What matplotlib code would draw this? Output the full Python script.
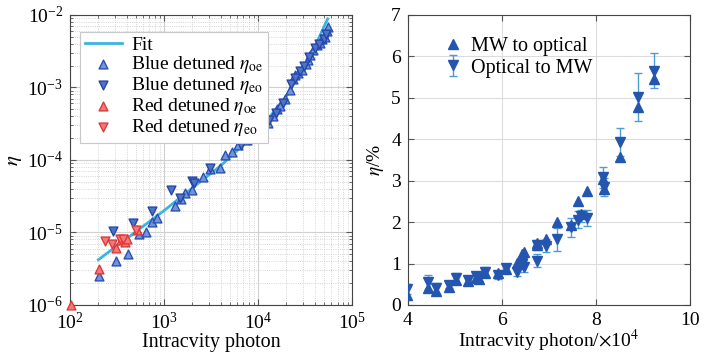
import matplotlib
matplotlib.use("Agg")
import matplotlib.pyplot as plt
from matplotlib.ticker import LogLocator, NullFormatter

plt.rcParams['font.family'] = ['Liberation Serif', 'DejaVu Serif']
plt.rcParams['mathtext.fontset'] = 'stix'

# left panel: efficiency vs intracavity photon number (log-log)
blue_oe_x = [205, 309, 410, 545, 645, 740, 850, 1310, 1500, 1660, 1960, 2600, 3100, 3900,
             4450, 5270, 6160, 7560, 9500, 11800, 12800, 14500, 16000, 17000, 19500, 21800,
             23500, 25000, 26800, 29000, 32000, 34000, 36000, 38600, 42000, 45700, 48000,
             51700, 54000, 55000]
blue_oe_y = [2.5e-6, 4.1e-6, 5.0e-6, 9.5e-6, 1.0e-5, 1.38e-5, 1.6e-5, 2.3e-5, 2.9e-5, 3.5e-5,
             3.8e-5, 5.9e-5, 7.5e-5, 7.8e-5, 1.17e-4, 1.3e-4, 1.6e-4, 1.9e-4, 2.5e-4, 3.4e-4,
             3.2e-4, 4.0e-4, 5.0e-4, 5.5e-4, 7.0e-4, 9.3e-4, 1.3e-3, 1.5e-3, 1.6e-3, 1.75e-3,
             2.1e-3, 2.4e-3, 2.8e-3, 3.3e-3, 3.8e-3, 4.1e-3, 4.6e-3, 5.0e-3, 5.9e-3, 6.8e-3]
blue_eo_x = [289, 472, 740, 1200, 1480, 1960, 2100, 3100, 6600, 8100, 10500, 13000, 15500,
             18500, 22500, 24500, 28000, 31000, 35000, 40000, 44000, 50000, 53000]
blue_eo_y = [1.05e-5, 1.35e-5, 2.0e-5, 3.9e-5, 3.0e-5, 5.2e-5, 4.8e-5, 7.8e-5, 1.6e-4, 1.9e-4,
             3.0e-4, 3.6e-4, 4.5e-4, 6.0e-4, 1.1e-3, 1.35e-3, 1.7e-3, 1.95e-3, 2.6e-3, 3.5e-3,
             3.9e-3, 4.7e-3, 5.5e-3]
red_oe_x = [102, 205, 309, 350, 380, 400, 520]
red_oe_y = [1.0e-6, 3.1e-6, 6.2e-6, 7.8e-6, 7.5e-6, 8.0e-6, 1.07e-5]
red_eo_x = [236, 278, 340, 370, 505]
red_eo_y = [7.6e-6, 6.9e-6, 8.0e-6, 8.2e-6, 1.07e-5]
fit_x = [200, 500, 1000, 2000, 4000, 10000, 20000, 30000, 40000, 55000]
fit_y = [4.2e-6, 1.02e-5, 2.0e-5, 4.1e-5, 8.3e-5, 2.5e-4, 7.5e-4, 1.8e-3, 3.6e-3, 8.8e-3]

# right panel: efficiency (%) vs photon number (x1e4)
photon = [3.97, 4.42, 4.6, 4.87, 5.03, 5.27, 5.44, 5.51, 5.63, 5.91, 6.08, 6.31, 6.42, 6.47,
          6.74, 6.75, 6.93, 7.18, 7.46, 7.61, 7.68, 7.8, 8.15, 8.16, 8.52, 8.9, 9.23]
mw_opt = [0.24, 0.42, 0.34, 0.44, 0.61, 0.57, 0.66, 0.62, 0.76, 0.76, 0.88, 1.02, 1.24, 1.27,
          1.5, 1.45, 1.6, 2.0, 1.92, 2.52, 2.2, 2.76, 3.04, 2.8, 3.56, 4.78, 5.44]
opt_mw = [0.38, 0.55, 0.42, 0.48, 0.64, 0.6, 0.69, 0.68, 0.79, 0.72, 0.89, 0.8, 1.0, 0.92,
          1.07, 1.45, 1.43, 1.58, 1.87, 2.06, 2.15, 2.1, 3.08, 2.84, 3.94, 5.02, 5.65]
opt_mw_err = [0.12, 0.18, 0.12, 0.08, 0.12, 0.1, 0.1, 0.1, 0.12, 0.1, 0.1, 0.1, 0.12, 0.12,
              0.15, 0.12, 0.15, 0.27, 0.22, 0.2, 0.15, 0.2, 0.25, 0.22, 0.34, 0.58, 0.42]

fig = plt.figure(figsize=(7.07, 3.53), dpi=100)
ax1 = fig.add_axes([0.099, 0.136, 0.399, 0.822])
ax2 = fig.add_axes([0.577, 0.136, 0.399, 0.822])

ms = 40
ax1.plot(fit_x, fit_y, color='#3cb4e0', lw=2, label='Fit', zorder=3)
ax1.scatter(blue_oe_x, blue_oe_y, marker='^', s=ms, facecolor='#7593d8', edgecolor='#2850b4',
            lw=1, label=r'Blue detuned $\eta_{\rm oe}$', zorder=4, clip_on=False)
ax1.scatter(blue_eo_x, blue_eo_y, marker='v', s=ms, facecolor='#4f72cc', edgecolor='#2446a6',
            lw=1, label=r'Blue detuned $\eta_{\rm eo}$', zorder=4, clip_on=False)
ax1.scatter(red_oe_x, red_oe_y, marker='^', s=ms, facecolor='#f07a78', edgecolor='#e0393a',
            lw=1, label=r'Red detuned $\eta_{\rm oe}$', zorder=4, clip_on=False)
ax1.scatter(red_eo_x, red_eo_y, marker='v', s=ms, facecolor='#f07a78', edgecolor='#e0393a',
            lw=1, label=r'Red detuned $\eta_{\rm eo}$', zorder=4, clip_on=False)
ax1.set_xscale('log')
ax1.set_yscale('log')
ax1.set_xlim(1e2, 1e5)
ax1.set_ylim(1e-6, 1e-2)
ax1.xaxis.set_minor_locator(LogLocator(base=10, subs=range(2, 10), numticks=20))
ax1.yaxis.set_minor_locator(LogLocator(base=10, subs=range(2, 10), numticks=20))
ax1.xaxis.set_minor_formatter(NullFormatter())
ax1.yaxis.set_minor_formatter(NullFormatter())
ax1.grid(True, which='major', color='#d0d0d0', lw=0.8)
ax1.grid(True, which='minor', color='#c8c8c8', lw=0.6, ls=':')
ax1.set_axisbelow(True)
ax1.set_xlabel('Intracvity photon', fontsize=14.5, labelpad=0)
ax1.set_ylabel(r'$\eta$', fontsize=15, labelpad=2)
leg1 = ax1.legend(loc='upper left', fontsize=14, handlelength=1.9, handletextpad=0.5,
                  borderaxespad=0.5, labelspacing=0.0, fancybox=False, framealpha=1,
                  borderpad=0.25, bbox_to_anchor=(0.0, 0.975))
leg1.get_frame().set_edgecolor('#c8c8c8')
leg1.get_frame().set_linewidth(0.8)

ax2.errorbar(photon, opt_mw, yerr=opt_mw_err, fmt='v', ms=7, color='#2456b0',
             ecolor='#4d9dd2', elinewidth=1, capsize=3, capthick=1, label='Optical to MW',
             zorder=3)
ax2.plot(photon, mw_opt, '^', ms=7, color='#2456b0', label='MW to optical', zorder=4)
ax2.set_xlim(4, 10)
ax2.set_ylim(0, 7)
ax2.set_xticks([4, 6, 8, 10])
ax2.set_yticks(range(0, 8))
ax2.grid(True, color='#dcdcdc', lw=0.8)
ax2.set_axisbelow(True)
ax2.set_xlabel(r'Intracvity photon/$\times$10$^4$', fontsize=14, labelpad=-1)
ax2.set_ylabel(r'$\eta$/%', fontsize=14, labelpad=4)
h, l = ax2.get_legend_handles_labels()
order = [l.index('MW to optical'), l.index('Optical to MW')]
leg2 = ax2.legend([h[i] for i in order], [l[i] for i in order], loc='upper left',
                  fontsize=14.5, handlelength=1.0, handletextpad=0.4, labelspacing=0.1,
                  frameon=False, bbox_to_anchor=(0.06, 0.985))

for ax in (ax1, ax2):
    ax.tick_params(which='both', direction='in', top=True, right=True, labelsize=14,
                   color='#555555')
    ax.tick_params(which='major', length=4, pad=5)
    ax.tick_params(which='minor', length=2)
    for sp in ax.spines.values():
        sp.set_color('#444444')
        sp.set_linewidth(0.8)

fig.savefig('out.png', dpi=100)
